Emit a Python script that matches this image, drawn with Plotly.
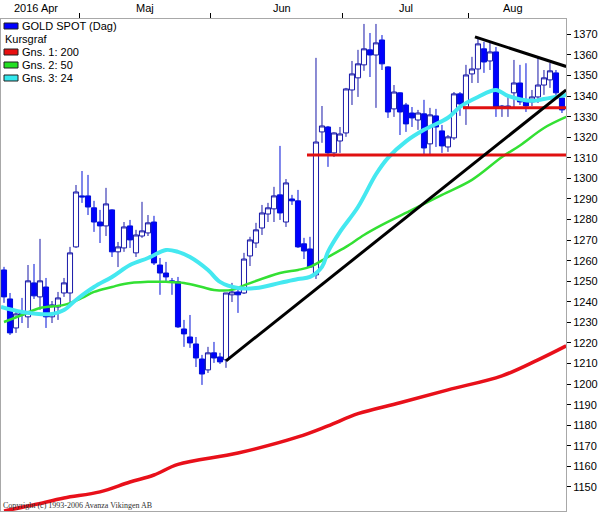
import plotly.graph_objects as go

# ---------------- data ----------------
day_idx = list(range(94))  # trading days, 2016-04-13 .. 2016-08-22

opens = [1255.5, 1241.4, 1227.3, 1234.6, 1232.7, 1249.2, 1242.4, 1247.2, 1232.7, 1237.5,
         1244.3, 1244.3, 1266.7, 1291.5, 1291.5, 1285.7, 1278.8, 1276.9, 1284.7, 1264.3,
         1266.2, 1276.9, 1263.8, 1272.0, 1273.5, 1278.8, 1257.9, 1254.0, 1250.2, 1249.7,
         1226.8, 1222.9, 1219.5, 1212.2, 1206.9, 1215.2, 1213.2, 1211.8, 1243.4, 1244.8,
         1244.3, 1262.3, 1268.6, 1275.9, 1282.7, 1285.2, 1292.0, 1278.8, 1290.0, 1289.1,
         1268.2, 1265.7, 1253.1, 1322.6, 1325.0, 1312.4, 1318.2, 1322.1, 1343.0, 1348.9,
         1355.2, 1362.5, 1360.0, 1367.3, 1354.2, 1333.8, 1341.6, 1335.7, 1331.8, 1328.4,
         1331.4, 1316.8, 1330.4, 1323.1, 1315.3, 1319.7, 1341.1, 1334.7, 1350.8, 1353.2,
         1363.0, 1357.1, 1361.5, 1334.3, 1334.3, 1341.6, 1346.4, 1337.2, 1337.2, 1339.6,
         1345.4, 1347.9, 1351.3, 1339.1]
highs = [1257.0, 1244.3, 1236.1, 1241.9, 1257.9, 1258.4, 1270.6, 1251.6, 1240.4, 1244.8,
         1251.6, 1266.7, 1296.8, 1303.6, 1301.7, 1289.1, 1284.7, 1295.4, 1285.0, 1269.1,
         1278.8, 1279.8, 1275.0, 1288.6, 1282.2, 1281.8, 1261.3, 1259.4, 1251.6, 1252.1,
         1231.2, 1233.6, 1222.9, 1214.2, 1218.1, 1220.5, 1215.2, 1244.3, 1249.2, 1246.7,
         1263.8, 1271.6, 1278.4, 1287.1, 1288.1, 1295.9, 1315.8, 1299.7, 1292.0, 1294.4,
         1271.1, 1271.6, 1358.6, 1335.2, 1325.5, 1322.4, 1325.0, 1344.0, 1357.1, 1362.5,
         1375.1, 1370.7, 1375.1, 1369.7, 1354.5, 1345.4, 1341.8, 1336.7, 1334.7, 1333.3,
         1338.2, 1334.3, 1333.8, 1326.0, 1321.1, 1342.0, 1342.0, 1355.2, 1359.1, 1368.8,
         1366.4, 1365.9, 1363.9, 1335.7, 1339.6, 1357.6, 1355.2, 1356.0, 1343.0, 1358.6,
         1352.7, 1356.1, 1352.7, 1340.6]
lows = [1239.5, 1223.9, 1224.9, 1229.7, 1227.3, 1241.4, 1236.1, 1227.3, 1229.7, 1231.2,
        1242.4, 1239.9, 1266.2, 1288.1, 1282.2, 1274.0, 1268.6, 1272.0, 1261.8, 1256.9,
        1264.3, 1266.2, 1261.8, 1271.1, 1272.0, 1257.9, 1243.4, 1249.2, 1243.4, 1227.3,
        1218.1, 1217.6, 1208.3, 1199.6, 1205.4, 1210.3, 1209.8, 1207.9, 1239.9, 1234.6,
        1243.8, 1257.4, 1266.2, 1272.5, 1278.8, 1278.8, 1279.8, 1276.4, 1287.1, 1266.2,
        1260.8, 1256.5, 1251.1, 1317.3, 1305.6, 1310.4, 1312.4, 1320.2, 1335.7, 1339.6,
        1352.3, 1349.3, 1334.3, 1352.7, 1329.4, 1329.9, 1321.1, 1322.6, 1325.0, 1323.6,
        1311.4, 1311.4, 1315.3, 1312.4, 1312.9, 1318.7, 1330.4, 1326.0, 1346.4, 1346.4,
        1351.3, 1352.7, 1329.9, 1329.9, 1329.9, 1334.7, 1335.7, 1332.3, 1335.2, 1336.7,
        1340.6, 1344.0, 1340.1, 1331.8]
closes = [1242.4, 1224.9, 1234.1, 1233.6, 1250.2, 1242.9, 1250.2, 1232.7, 1238.5, 1241.9,
          1249.2, 1263.8, 1293.4, 1291.0, 1286.1, 1278.8, 1276.9, 1287.6, 1264.3, 1266.7,
          1276.4, 1270.1, 1272.5, 1274.5, 1278.4, 1258.9, 1254.0, 1252.1, 1249.7, 1227.8,
          1224.4, 1220.0, 1212.7, 1204.9, 1215.2, 1212.7, 1210.8, 1244.3, 1244.8, 1243.4,
          1260.8, 1270.1, 1275.0, 1283.2, 1285.7, 1291.5, 1283.2, 1297.8, 1289.1, 1266.7,
          1264.7, 1256.9, 1317.7, 1325.5, 1312.4, 1322.1, 1321.6, 1343.5, 1350.8, 1355.7,
          1363.0, 1360.0, 1365.9, 1355.7, 1332.3, 1342.0, 1332.3, 1326.5, 1329.4, 1331.8,
          1314.8, 1330.9, 1325.0, 1315.8, 1320.2, 1341.1, 1336.2, 1350.3, 1353.2, 1365.4,
          1356.6, 1361.5, 1334.7, 1335.2, 1335.2, 1346.4, 1337.2, 1335.2, 1339.6, 1345.4,
          1348.9, 1352.3, 1341.6, 1333.3]

# moving averages
ma200_idx = [0, 5, 10, 16, 21, 25, 29, 39, 49, 54, 59, 66, 74, 83, 89, 93.7]
ma200_val = [1138.3, 1141.3, 1144.6, 1147.6, 1152.4, 1155.8, 1161.0, 1166.5, 1174.3, 1179.7,
             1185.6, 1190.9, 1197.2, 1204.0, 1211.8, 1218.6]
ma50_idx = [0, 3, 6, 10, 13, 15, 18, 20, 24, 27, 30, 33, 35, 38, 40, 46, 49, 51, 54, 57,
            60, 63, 68, 73, 78, 83, 86, 90, 93.7]
ma50_val = [1230.2, 1233.6, 1237.0, 1238.5, 1241.9, 1244.8, 1247.2, 1248.7, 1249.7, 1249.7,
            1249.2, 1247.2, 1245.8, 1245.8, 1248.0, 1254.0, 1255.5, 1257.0, 1261.8, 1266.7,
            1272.5, 1277.4, 1284.7, 1292.0, 1299.3, 1310.4, 1316.0, 1324.5, 1329.9]
ma24_idx = [-0.5, 3, 8, 10, 12, 15, 18, 21, 24, 27, 29, 31, 34, 36, 39, 42, 46, 49, 51, 53,
            54, 56, 59, 62, 64, 67, 70, 74, 76, 79, 82, 84, 88, 90, 93.7]
ma24_val = [1237.5, 1235.1, 1234.1, 1236.0, 1240.9, 1247.2, 1252.1, 1257.9, 1261.3, 1265.2,
            1264.3, 1261.8, 1255.5, 1249.7, 1246.7, 1246.7, 1249.2, 1251.1, 1252.1, 1257.0,
            1264.3, 1274.0, 1286.1, 1302.0, 1310.0, 1318.0, 1323.6, 1329.5, 1334.8, 1339.6,
            1343.0, 1340.1, 1337.7, 1338.6, 1340.6]

# drawn trend lines
trend_up_x = [37, 93.7]
trend_up_y = [1211.3, 1343.0]
trend_down_x = [78.5, 93.7]
trend_down_y = [1368.8, 1354.4]
support1_x = [50.5, 93.7]
support1_y = [1311.4, 1311.4]
support2_x = [76.5, 93.7]
support2_y = [1334.3, 1334.3]

y_ticks = list(range(1150, 1371, 10))
month_bounds = [12.5, 34.5, 56.5, 77.5]
month_labels = ["2016 Apr", "Maj", "Jun", "Jul", "Aug"]
month_label_pos = [5.4, 23.5, 46.3, 67.0, 84.8]

legend_labels = ["GOLD SPOT (Dag)", "Kursgraf", "Gns. 1: 200", "Gns. 2: 50", "Gns. 3: 24"]

# ---------------- figure ----------------
W, H = 601, 513
ML, MR, MT, MB = 1, 35, 19, 2
PW, PH = W - ML - MR, H - MT - MB

def px_x(px):
    return (px - ML) / PW

def px_y(py):
    return (H - MB - py) / PH

RED = "#e8101a"
GREEN = "#33e033"
CYAN = "#44e8f0"
BLUE_F = "#0000ff"
NAVY = "#1818a8"

fig = go.Figure()
fig.add_trace(go.Candlestick(
    x=day_idx, open=opens, high=highs, low=lows, close=closes,
    increasing=dict(line=dict(color=NAVY, width=1), fillcolor="white"),
    decreasing=dict(line=dict(color="#0010d8", width=1), fillcolor=BLUE_F),
    whiskerwidth=0, hoverinfo="skip"))

fig.add_trace(go.Scatter(x=ma200_idx, y=ma200_val, mode="lines",
                         line=dict(color=RED, width=3.5, shape="spline"), hoverinfo="skip"))
fig.add_trace(go.Scatter(x=ma50_idx, y=ma50_val, mode="lines",
                         line=dict(color=GREEN, width=2.5, shape="spline"), hoverinfo="skip"))
fig.add_trace(go.Scatter(x=ma24_idx, y=ma24_val, mode="lines",
                         line=dict(color=CYAN, width=4, shape="spline"), hoverinfo="skip"))
for xs, ys, col in [(support1_x, support1_y, "#e01010"), (support2_x, support2_y, "#e01010"),
                    (trend_up_x, trend_up_y, "black"), (trend_down_x, trend_down_y, "black")]:
    fig.add_trace(go.Scatter(x=xs, y=ys, mode="lines", line=dict(color=col, width=3),
                             hoverinfo="skip"))

FONT = "Liberation Sans, Arial, sans-serif"
annotations = []
for lab, pos in zip(month_labels, month_label_pos):
    annotations.append(dict(x=pos, xref="x", y=px_y(8), yref="paper", text=lab,
                            showarrow=False, xanchor="center", yanchor="middle",
                            font=dict(family=FONT, size=11, color="black")))

shapes = []
leg_rows = [26, 39, 52, 65, 78]
leg_cols = [BLUE_F, None, "#e81010", "#22e022", "#33e8ee"]
for lab, row, col in zip(legend_labels, leg_rows, leg_cols):
    if col is not None:
        shapes.append(dict(type="rect", xref="paper", yref="paper",
                           x0=px_x(4), x1=px_x(18), y0=px_y(row + 3), y1=px_y(row - 3),
                           fillcolor=col, line=dict(color="#202020", width=1)))
        tx = 20
    else:
        tx = 3
    annotations.append(dict(x=px_x(tx), y=px_y(row), xref="paper", yref="paper", text=lab,
                            showarrow=False, xanchor="left", yanchor="middle",
                            font=dict(family=FONT, size=11, color="black")))

annotations.append(dict(x=px_x(1), y=px_y(505), xref="paper", yref="paper",
                        text="Copyright (c) 1993-2006 Avanza Vikingen AB", showarrow=False,
                        xanchor="left", yanchor="middle",
                        font=dict(family="Liberation Serif, serif", size=8, color="#333333")))

fig.update_layout(
    width=W, height=H, margin=dict(l=ML, r=MR, t=MT, b=MB, pad=0),
    paper_bgcolor="white", plot_bgcolor="white", showlegend=False,
    boxgap=0.15, boxgroupgap=0,
    annotations=annotations, shapes=shapes,
    xaxis=dict(range=[-0.5, 93.67], side="top", showgrid=False, zeroline=False,
               rangeslider=dict(visible=False), tickmode="array", tickvals=month_bounds,
               showticklabels=False, ticks="outside", ticklen=5, tickcolor="black",
               showline=True, linecolor="#a8a8a8", linewidth=1, mirror=True),
    yaxis=dict(range=[1138.3, 1377.5], side="right", showgrid=False, zeroline=False,
               tickmode="array", tickvals=y_ticks, ticks="outside", ticklen=4,
               tickcolor="black", tickfont=dict(family=FONT, size=11, color="black"),
               showline=True, linecolor="#a8a8a8", linewidth=1, mirror=True),
)

fig.write_html("out.html")
